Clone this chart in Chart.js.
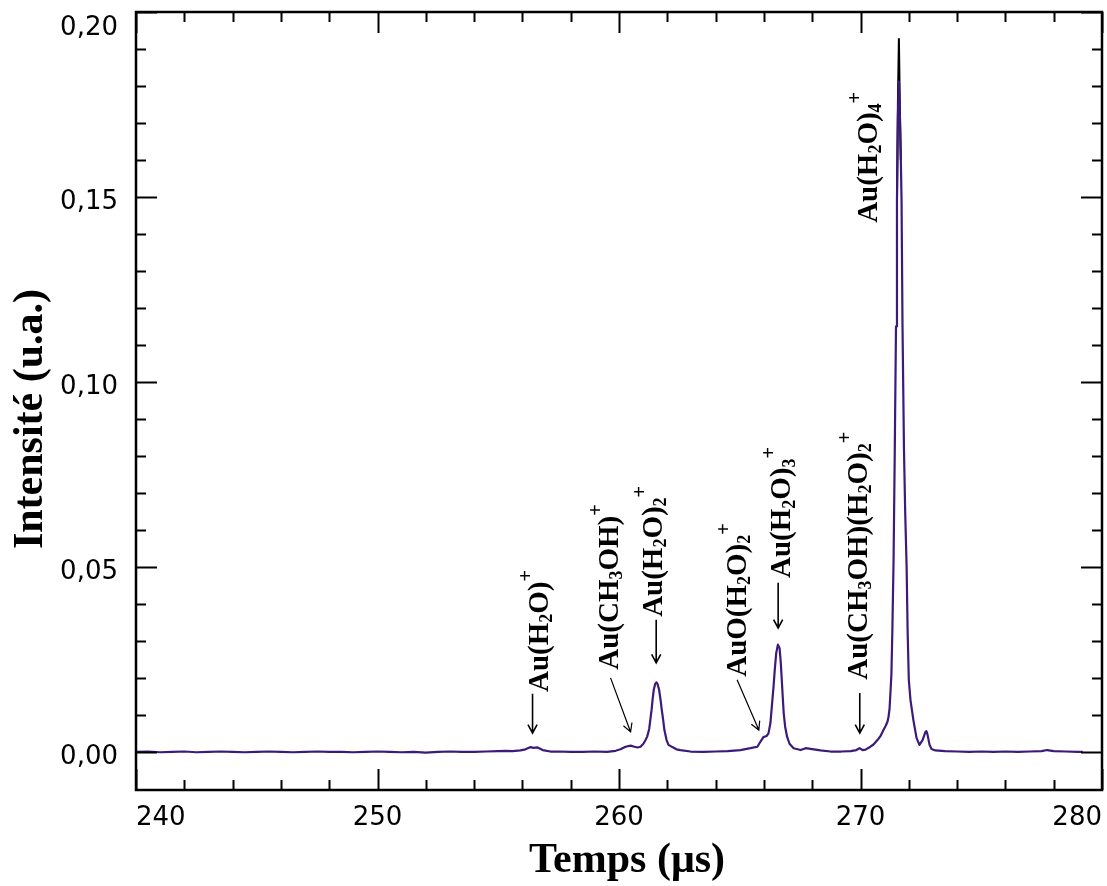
<!DOCTYPE html>
<html><head><meta charset="utf-8">
<script src="https://cdn.jsdelivr.net/npm/chart.js@4.4.1/dist/chart.umd.min.js"></script>
<style>html,body{margin:0;padding:0;background:#fff;}canvas{display:block;}</style>
</head><body>
<canvas id="c" width="1107" height="886"></canvas>
<script>
// ---- data ----
const timeUs = [
 240.0,240.5,241.0,241.5,242.0,242.5,243.0,243.5,244.0,244.5,245.0,245.5,246.0,246.5,247.0,247.5,
 248.0,248.5,249.0,249.5,250.0,250.5,251.0,251.5,252.0,252.5,253.0,253.5,254.0,254.5,255.0,255.3,
 255.6,255.92,256.13,256.34,256.46,256.63,256.84,257.16,257.5,258.0,258.5,259.0,259.5,259.86,260.06,
 260.27,260.48,260.64,260.77,260.89,261.01,261.10,261.17,261.25,261.30,261.35,261.39,261.44,261.50,
 261.55,261.60,261.66,261.72,261.77,261.83,261.88,261.97,262.05,262.21,262.38,262.54,262.96,263.5,
 264.0,264.5,265.03,265.44,265.73,265.86,265.98,266.11,266.19,266.27,266.34,266.40,266.45,266.51,
 266.58,266.65,266.70,266.74,266.78,266.82,266.88,266.96,267.06,267.23,267.52,267.73,267.93,268.34,
 268.76,269.2,269.59,269.83,269.96,270.08,270.21,270.41,270.54,270.70,270.83,270.95,271.04,271.12,
 271.16,271.20,271.24,271.28,271.32,271.37,271.42,271.47,271.51,271.55,271.59,271.63,271.67,271.70,
 271.74,271.80,271.85,271.91,271.95,272.00,272.07,272.19,272.32,272.44,272.57,272.69,272.73,272.77,
 272.86,272.94,273.10,273.5,274.0,274.5,275.0,275.5,276.0,276.5,277.0,277.5,277.73,278.0,278.5,279.0,279.2
];
const signalSmoothed = [
 0.0000,0.0001,-0.0001,0.0000,0.0001,-0.0001,0.0000,0.0001,0.0000,-0.0001,0.0000,0.0001,0.0000,-0.0001,0.0000,0.0001,
 0.0000,0.0000,-0.0001,0.0000,0.0001,0.0000,-0.0001,0.0000,-0.0002,0.0000,0.0001,0.0000,0.0000,0.0001,0.0002,0.0003,
 0.0002,0.0004,0.0007,0.0013,0.0011,0.0012,0.0005,0.0001,0.0001,0.0000,0.0000,0.0001,0.0000,0.0003,0.0007,
 0.0014,0.0017,0.0014,0.0012,0.0014,0.0022,0.0032,0.0042,0.0062,0.0088,0.0114,0.0141,0.0168,0.0184,
 0.0188,0.0183,0.0168,0.0141,0.0114,0.0086,0.0059,0.0032,0.0019,0.0013,0.0007,0.0005,0.0001,0.0000,
 0.0001,0.0002,0.0005,0.0010,0.0014,0.0028,0.0040,0.0043,0.0050,0.0078,0.0132,0.0177,0.0222,0.0267,
 0.0290,0.0280,0.0240,0.0195,0.0149,0.0105,0.0068,0.0041,0.0022,0.0010,0.0005,0.0010,0.0008,0.0004,
 0.0001,0.0001,0.0002,0.0005,0.0010,0.0005,0.0006,0.0014,0.0020,0.0032,0.0043,0.0059,0.0070,0.0082,
 0.0095,0.0114,0.0160,0.0210,0.0330,0.0520,0.0820,0.1150,0.1490,0.1720,0.1812,0.1720,0.1600,0.1490,
 0.1150,0.0820,0.0650,0.0500,0.0330,0.0195,0.0140,0.0086,0.0038,0.0019,0.0032,0.0054,0.0056,0.0048,
 0.0019,0.0008,0.0004,0.0002,0.0001,0.0000,0.0001,0.0000,0.0001,0.0000,0.0001,0.0002,0.0005,0.0002,0.0001,0.0000,0.0000
];
const rawPeakTime   = [271.51,271.55,271.59,271.63,271.67];
const rawPeakSignal = [0.1490,0.1760,0.1929,0.1740,0.1600];

const xTickValues = [240, 250, 260, 270, 280];
const yTickValues = [0, 0.05, 0.10, 0.15, 0.20];
const yTickLabels = ['0,00', '0,05', '0,10', '0,15', '0,20'];

const annLabels = ['Au(H_2O)^+', 'Au(CH_3OH)^+', 'Au(H_2O)_2^+', 'AuO(H_2O)_2^+', 'Au(H_2O)_3^+', 'Au(CH_3OH)(H_2O)_2^+', 'Au(H_2O)_4^+'];
const annTime   = [257.04, 259.94, 261.78, 265.24, 267.10, 270.27, 270.68];
const annSignal = [0.0162, 0.0222, 0.0365, 0.0203, 0.0470, 0.0195, 0.1430];
const arrowFromTime   = [256.42, 259.65, 261.54, 264.89, 266.59, 269.97, null];
const arrowFromSignal = [0.0157, 0.0200, 0.0357, 0.0195, 0.0457, 0.0159, null];
const arrowToTime     = [256.42, 260.48, 261.54, 265.79, 266.59, 269.97, null];
const arrowToSignal   = [0.0051, 0.0054, 0.0241, 0.0059, 0.0335, 0.0051, null];

// ---- helpers ----
const SERIF = '"Liberation Serif", "Times New Roman", serif';
function parseRich(s) {
  const out = []; let buf = '';
  for (let i = 0; i < s.length; i++) {
    const c = s[i];
    if (c === '_' || c === '^') {
      if (buf) { out.push({t: buf, k: 'n'}); buf = ''; }
      out.push({t: s[i + 1], k: c === '_' ? 'sub' : 'sup'}); i++;
    } else buf += c;
  }
  if (buf) out.push({t: buf, k: 'n'});
  return out;
}
function drawRich(ctx, text, x, y, size) {
  ctx.save();
  ctx.translate(x, y);
  ctx.rotate(-Math.PI / 2);
  ctx.textBaseline = 'alphabetic';
  ctx.textAlign = 'left';
  ctx.fillStyle = '#000';
  let cx = 0;
  for (const s of parseRich(text)) {
    let fs = size, dy = 0, w = 'bold';
    if (s.k === 'sub') { fs = size * 0.62; dy = size * 0.14; }
    if (s.k === 'sup') { fs = size * 0.7; dy = -size * 0.55; }
    ctx.font = w + ' ' + fs + 'px ' + SERIF;
    ctx.fillText(s.t, cx, dy);
    cx += ctx.measureText(s.t).width;
  }
  ctx.restore();
}
function drawArrow(ctx, x1, y1, x2, y2, lw) {
  ctx.save();
  ctx.strokeStyle = '#000';
  ctx.lineWidth = lw;
  ctx.beginPath();
  ctx.moveTo(x1, y1); ctx.lineTo(x2, y2);
  const a = Math.atan2(y2 - y1, x2 - x1), h = 9.5, sp = 0.5;
  ctx.moveTo(x2 - h * Math.cos(a - sp), y2 - h * Math.sin(a - sp));
  ctx.lineTo(x2, y2);
  ctx.lineTo(x2 - h * Math.cos(a + sp), y2 - h * Math.sin(a + sp));
  ctx.stroke();
  ctx.restore();
}
function shiftTitle(scale, dx, dy) {
  if (scale._titleShifted) return;
  const orig = scale.drawTitle;
  scale.drawTitle = function () { this.ctx.save(); this.ctx.translate(dx, dy); orig.call(this); this.ctx.restore(); };
  scale._titleShifted = true;
}

const decorPlugin = {
  id: 'decor',
  beforeDraw(chart) {
    const ys = chart.scales.y;
    const items = ys.getLabelItems();
    items.forEach((it, i) => {
      if (it._shifted) return;
      it.options.translation[1] += (i === items.length - 1 ? 16 : 5);
      it._shifted = true;
    });
    shiftTitle(chart.scales.x, 8, 0);
    shiftTitle(chart.scales.y, 0, 18);
  },
  afterDatasetsDraw(chart) {
    const ctx = chart.ctx, xs = chart.scales.x, ys = chart.scales.y;
    for (let i = 0; i < annLabels.length; i++) {
      drawRich(ctx, annLabels[i], xs.getPixelForValue(annTime[i]), ys.getPixelForValue(annSignal[i]), 29);
      if (arrowFromTime[i] !== null) {
        const x1 = xs.getPixelForValue(arrowFromTime[i]), y1 = ys.getPixelForValue(arrowFromSignal[i]);
        const x2 = xs.getPixelForValue(arrowToTime[i]), y2 = ys.getPixelForValue(arrowToSignal[i]);
        drawArrow(ctx, x1, y1, x2, y2, Math.abs(x2 - x1) > 2 ? 1.2 : 1.6);
      }
    }
  },
  afterDraw(chart) {
    const ctx = chart.ctx, xs = chart.scales.x, ys = chart.scales.y;
    const {left, right, top, bottom} = chart.chartArea;
    ctx.save();
    ctx.strokeStyle = '#000';
    ctx.lineWidth = 2;
    ctx.beginPath();
    for (let i = 0; i <= 20; i++) {
      const v = 240 + i * 2, px = Math.round(xs.getPixelForValue(v)) + 0.5, len = (i % 5 === 0) ? 21 : 10;
      ctx.moveTo(px, bottom); ctx.lineTo(px, bottom - len);
      ctx.moveTo(px, top); ctx.lineTo(px, top + len);
    }
    for (let i = 0; i <= 20; i++) {
      const v = i / 100, py = Math.round(ys.getPixelForValue(v)) + 0.5, len = (i % 5 === 0) ? 21 : 10;
      ctx.moveTo(left, py); ctx.lineTo(left + len, py);
      ctx.moveTo(right, py); ctx.lineTo(right - len, py);
    }
    ctx.stroke();
    ctx.lineWidth = 2.5;
    ctx.strokeRect(left, top, right - left, bottom - top);
    ctx.restore();
  }
};

new Chart(document.getElementById('c'), {
  type: 'line',
  data: {
    datasets: [
      { label: 'signal lissé', data: timeUs.map((t, i) => ({x: t, y: signalSmoothed[i]})),
        borderColor: '#3b1a7a', borderWidth: 2.2, pointRadius: 0, tension: 0, fill: false, order: 0,
        borderJoinStyle: 'round' },
      { label: 'signal brut', data: rawPeakTime.map((t, i) => ({x: t, y: rawPeakSignal[i]})),
        borderColor: '#000000', borderWidth: 2, pointRadius: 0, tension: 0, fill: false, order: 1 }
    ]
  },
  options: {
    responsive: false, animation: false, devicePixelRatio: 1,
    layout: { padding: { top: 12, right: 5, left: 0, bottom: 0 } },
    plugins: { legend: { display: false }, tooltip: { enabled: false } },
    scales: {
      x: {
        type: 'linear', min: 240, max: 280,
        afterBuildTicks: s => { s.ticks = xTickValues.map(v => ({value: v})); },
        afterFit: s => { s.height = 96; s.paddingLeft = 0; s.paddingRight = 0; },
        grid: { display: false, drawTicks: false }, border: { display: false },
        ticks: { align: 'inner', padding: 13, color: '#000', maxRotation: 0, autoSkip: false,
                 font: { family: '"DejaVu Sans"', size: 26 }, callback: v => String(v) },
        title: { display: true, text: 'Temps (μs)', color: '#000',
                 font: { family: SERIF, size: 42, weight: 'bold' }, padding: { top: 0, bottom: 0 } }
      },
      y: {
        type: 'linear', min: -0.0103, max: 0.2,
        afterBuildTicks: s => { s.ticks = yTickValues.map(v => ({value: v})); },
        afterFit: s => { s.width = 136; s.paddingTop = 0; s.paddingBottom = 0; },
        grid: { display: false, drawTicks: false }, border: { display: false },
        ticks: { padding: 18, color: '#000', autoSkip: false,
                 font: { family: '"DejaVu Sans"', size: 26 }, callback: (v, i) => yTickLabels[i] },
        title: { display: true, text: 'Intensité (u.a.)', color: '#000',
                 font: { family: SERIF, size: 42, weight: 'bold' }, padding: { top: 6, bottom: 0 } }
      }
    }
  },
  plugins: [decorPlugin]
});
</script>
</body></html>
